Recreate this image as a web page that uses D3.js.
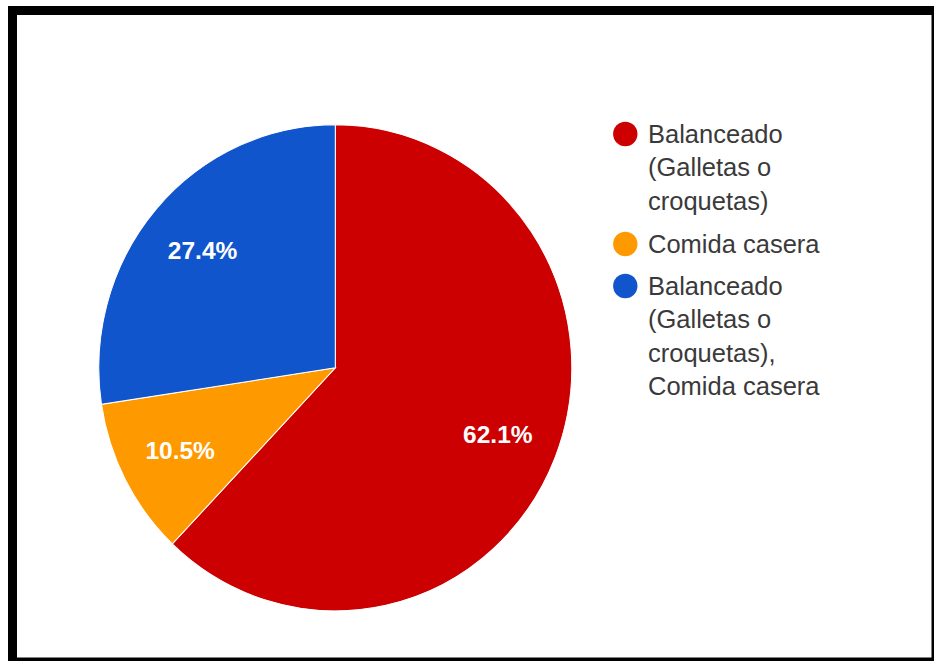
<!DOCTYPE html>
<html>
<head>
<meta charset="utf-8">
<script src="https://cdn.jsdelivr.net/npm/d3@7"></script>
<style>
  html, body { margin: 0; padding: 0; background: #fff; }
  svg { display: block; }
</style>
</head>
<body>
<svg id="chart" width="934" height="661"></svg>
<script>
// Food type shares
const categories = [
  "Balanceado (Galletas o croquetas)",
  "Comida casera",
  "Balanceado (Galletas o croquetas), Comida casera"
];
const values = [62.1, 10.5, 27.4];
const colors = ["#cc0000", "#ff9900", "#1155cc"];
// Legend entries broken into display lines
const legendLines = [
  ["Balanceado", "(Galletas o", "croquetas)"],
  ["Comida casera"],
  ["Balanceado", "(Galletas o", "croquetas),", "Comida casera"]
];

const svg = d3.select("#chart");
const font = "'Liberation Sans', Arial, sans-serif";

// Frame
svg.append("rect")
  .attr("x", 12.5).attr("y", 10.5)
  .attr("width", 923.5).attr("height", 651.5)
  .attr("fill", "#fff")
  .attr("stroke", "#000")
  .attr("stroke-width", 9);

// Pie
const cx = 335.3, cy = 367.8, rx = 236.5, ry = 243;
const pie = d3.pie().sort(null).value(d => d)(values);
const arc = d3.arc().innerRadius(0).outerRadius(rx);
const labelArc = d3.arc().innerRadius(rx * 0.74).outerRadius(rx * 0.74);

const g = svg.append("g").attr("transform", `translate(${cx},${cy})`);
g.append("g").attr("transform", `scale(1,${ry / rx})`)
  .selectAll("path")
  .data(pie)
  .join("path")
  .attr("d", arc)
  .attr("fill", (d, i) => colors[i])
  .attr("stroke", "#fff")
  .attr("stroke-width", 1);

g.selectAll("text.pct")
  .data(pie)
  .join("text")
  .attr("class", "pct")
  .attr("x", d => labelArc.centroid(d)[0])
  .attr("y", d => labelArc.centroid(d)[1] * ry / rx)
  .attr("text-anchor", "middle")
  .attr("dominant-baseline", "central")
  .attr("font-family", font)
  .attr("font-size", 24.5)
  .attr("font-weight", "bold")
  .attr("fill", "#fff")
  .text(d => d.data.toFixed(1) + "%");

// Legend
const legendX = 625.3, textX = 648;
const firstBaselines = [143, 253, 295];
const lineH = 33.4;
const fs = 25.5;
const leg = svg.append("g");
legendLines.forEach((lines, i) => {
  const y0 = firstBaselines[i];
  leg.append("circle")
    .attr("cx", legendX).attr("cy", y0 - 9)
    .attr("r", 12.2)
    .attr("fill", colors[i]);
  const t = leg.append("text")
    .attr("font-family", font)
    .attr("font-size", fs)
    .attr("fill", "#3a3a3a");
  lines.forEach((ln, j) => {
    t.append("tspan").attr("x", textX).attr("y", y0 + j * lineH).text(ln);
  });
});
</script>
</body>
</html>
